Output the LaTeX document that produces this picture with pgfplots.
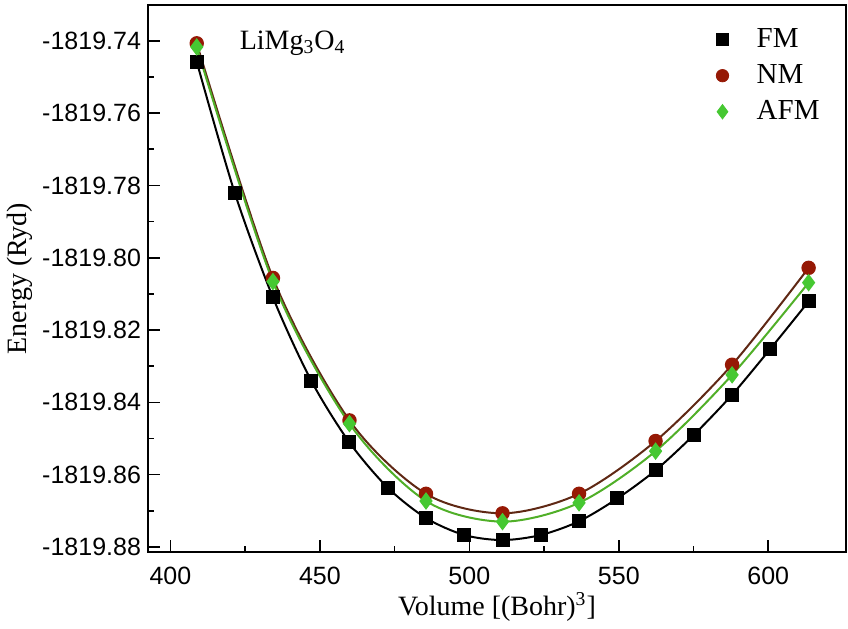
\documentclass[border=0pt]{standalone}
\usepackage{pgfplots}
\pgfplotsset{compat=1.18}
\usepackage{fontspec}
\setmainfont{Liberation Serif}
\newfontfamily\arialf{Liberation Sans}
\definecolor{nmred}{RGB}{150,25,5}
\definecolor{nmline}{RGB}{95,40,20}
\definecolor{afmgreen}{RGB}{70,200,50}
\definecolor{afmline}{RGB}{80,175,40}
\makeatletter
\def\myfpshift#1#2{%
  \pgfutil@in@{Y}{#1}%
  \ifpgfutil@in@
    \pgfmathfloattosci{#1}%
    \edef\pgfmathresult{\fpeval{(\pgfmathresult)#2}}%
  \else
    \edef\pgfmathresult{\fpeval{(#1)#2}}%
  \fi}
\makeatother
\begin{document}
\begin{tikzpicture}
\begin{axis}[
  scale only axis, width=349pt, height=273.5pt,
  xmin=392.5, xmax=626,
  y coord trafo/.code={\myfpshift{#1}{+1819.8}},
  y coord inv trafo/.code={\myfpshift{#1}{-1819.8}},
  ymin=-1819.8814, ymax=-1819.7301,
  xtick={400,450,500,550,600}, minor x tick num=1,
  ytick={-1819.88,-1819.86,-1819.84,-1819.82,-1819.80,-1819.78,-1819.76,-1819.74},
  yticklabels={-1819.88,-1819.86,-1819.84,-1819.82,-1819.80,-1819.78,-1819.76,-1819.74},
  minor y tick num=1,
  tick align=inside, xtick pos=left, ytick pos=left,
  major tick length=6pt, minor tick length=3pt,
  every tick/.style={black, line width=0.8pt},
  axis line style={line width=1.2pt},
  /pgf/number format/assume math mode=true,
  ticklabel style={font=\fontsize{12.5}{12.5}\arialf},
  xticklabel style={yshift=-4pt},
  xlabel={Volume [(Bohr)\textsuperscript{3}]},
  ylabel={Energy (Ryd)},
  label style={font=\fontsize{14}{14}\selectfont},
  xlabel style={at={(axis description cs:0.5,-0.1005)}, anchor=center},
  ylabel style={at={(axis description cs:-0.1834,0.5)}, anchor=center},
  legend style={draw=none, fill=none, font=\fontsize{14.5}{14.5}\selectfont,
    at={(axis description cs:0.977,0.972)}, anchor=north east, row sep=3pt,
    /tikz/every odd column/.append style={column sep=12pt}},
  legend cell align=left,
]
\addplot[black, line width=1pt, smooth, mark=square*, mark size=3pt, mark options={solid, fill=black}, forget plot] coordinates {
(408.8,-1819.7458) (421.5,-1819.7820) (434.3,-1819.8110) (447.1,-1819.8340)
(459.9,-1819.8511) (472.7,-1819.8636) (485.5,-1819.8720) (498.3,-1819.8767)
(511.1,-1819.8781) (523.9,-1819.8767) (536.7,-1819.8729) (549.5,-1819.8666)
(562.3,-1819.8588) (575.1,-1819.8490) (587.9,-1819.8379) (600.7,-1819.8252)
(613.5,-1819.8121)};
\addplot[nmline, line width=1pt, smooth, mark=*, mark size=3.1pt, mark options={solid, draw=nmred, fill=nmred}, forget plot] coordinates {
(408.8,-1819.7407) (434.3,-1819.8056) (459.9,-1819.8450) (485.5,-1819.8653)
(511.1,-1819.8707) (536.7,-1819.8653) (562.3,-1819.8507) (587.9,-1819.8296)
(613.5,-1819.8028)};
\addplot[afmline, line width=1pt, smooth, mark=diamond*, mark size=3.6pt, mark options={solid, draw=afmgreen, fill=afmgreen}, forget plot] coordinates {
(408.8,-1819.7417) (434.3,-1819.8066) (459.9,-1819.8459) (485.5,-1819.8673)
(511.1,-1819.8730) (536.7,-1819.8678) (562.3,-1819.8535) (587.9,-1819.8324)
(613.5,-1819.8069)};
\addlegendimage{only marks, mark=square*, mark size=3pt, black}
\addlegendentry{FM}
\addlegendimage{only marks, mark=*, mark size=3.1pt, draw=nmred, fill=nmred}
\addlegendentry{NM}
\addlegendimage{only marks, mark=diamond*, mark size=3.6pt, draw=afmgreen, fill=afmgreen}
\addlegendentry{AFM}
\node[anchor=west, font=\fontsize{14}{14}\selectfont, inner sep=0pt] at (rel axis cs:0.131,0.930) {LiMg\textsubscript{3}O\textsubscript{4}};
\coordinate (bl) at (rel axis cs:0,0);
\coordinate (tr) at (rel axis cs:1,1);
\end{axis}
\pgfresetboundingbox
\path ([shift={(-74pt,-38pt)}]bl) rectangle ([shift={(1pt,2.5pt)}]tr);
\end{tikzpicture}
\end{document}
